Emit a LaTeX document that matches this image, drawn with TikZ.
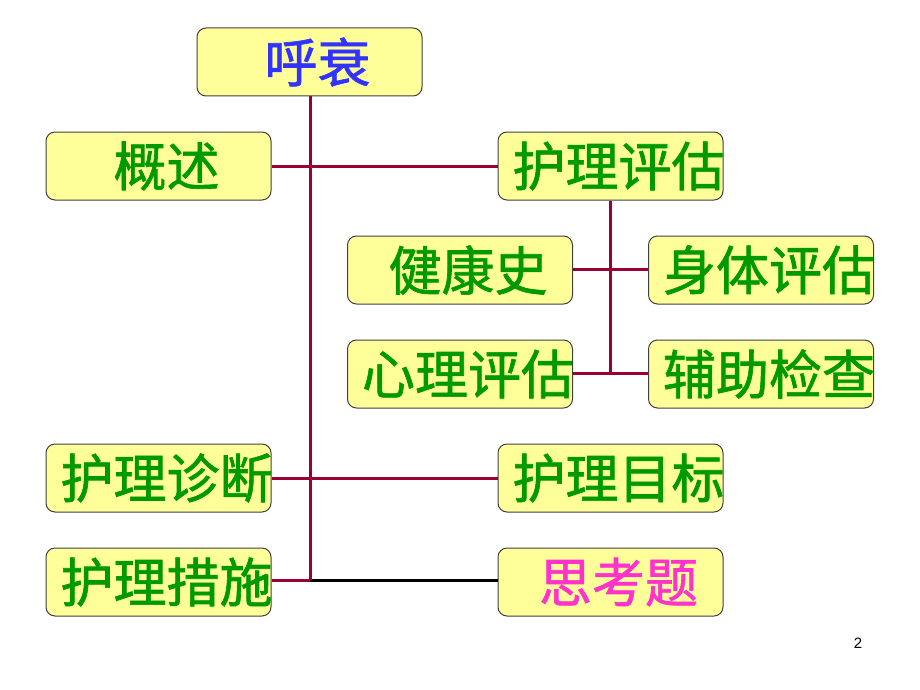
\documentclass[tikz,border=0pt]{standalone}
\usepackage{fontspec}
\newfontfamily\cjk[FakeBold=1.2]{Noto Sans CJK SC}
\setsansfont{Liberation Sans}
\definecolor{boxfill}{HTML}{FFFF99}
\definecolor{boxline}{HTML}{404040}
\definecolor{txtgreen}{HTML}{009900}
\definecolor{txtblue}{HTML}{3333FF}
\definecolor{txtpink}{HTML}{FF33CC}
\definecolor{conn}{HTML}{990033}
\begin{document}
\begin{tikzpicture}[x=1pt,y=-1pt,
  box/.style={draw=boxline, line width=1pt, fill=boxfill, rounded corners=9pt,
    minimum width=225pt, minimum height=68pt, inner sep=0pt},
  lbl/.style={inner sep=0pt, text=txtgreen, xshift=8pt,
    font=\cjk\fontsize{53}{53}\selectfont},
  link/.style={draw=conn, line width=3pt},
  blink/.style={draw=black, line width=3pt}]
\useasboundingbox (0,0) rectangle (920,690);
\node[box] (hs) at (309.5,62) {};
\node[box] (gs) at (158.5,166) {};
\node[box] (hlpg) at (610.5,166) {};
\node[box] (jks) at (460,270) {};
\node[box] (stpg) at (761,270) {};
\node[box] (xlpg) at (460,374) {};
\node[box] (fzjc) at (761,374) {};
\node[box] (hlzd) at (158.5,478) {};
\node[box] (hlmb) at (610.5,478) {};
\node[box] (hlcs) at (158.5,582) {};
\node[box] (skt) at (610.5,582) {};
\node[lbl, text=txtblue] (hst) at (hs.center) {呼衰};
\node[lbl] (gst) at (gs.center) {概述};
\node[lbl] (hlpgt) at (hlpg.center) {护理评估};
\node[lbl] (jkst) at (jks.center) {健康史};
\node[lbl] (stpgt) at (stpg.center) {身体评估};
\node[lbl] (xlpgt) at (xlpg.center) {心理评估};
\node[lbl] (fzjct) at (fzjc.center) {辅助检查};
\node[lbl] (hlzdt) at (hlzd.center) {护理诊断};
\node[lbl] (hlmbt) at (hlmb.center) {护理目标};
\node[lbl] (hlcst) at (hlcs.center) {护理措施};
\node[lbl, text=txtpink] (sktt) at (skt.center) {思考题};
\node[font=\sffamily\fontsize{15}{15}\selectfont] (pg) at (858,643) {2};
\coordinate (jm) at (310,580);
\coordinate (jr) at (610,373);
% connectors
\draw[blink] (jm) -- (skt.west |- jm);
\draw[link] (hs.south -| jm) -- (jm);
\draw[link] (hlcs.east |- jm) -- (jm);
\draw[link] (gs.east) -- (hlpg.west);
\draw[link] (hlzd.east) -- (hlmb.west);
\draw[link] (hlpg.south -| jr) -- (jr);
\draw[link] (jks.east |- 0,269) -- (stpg.west |- 0,269);
\draw[link] (xlpg.east |- jr) -- (fzjc.west |- jr);
\end{tikzpicture}
\end{document}
